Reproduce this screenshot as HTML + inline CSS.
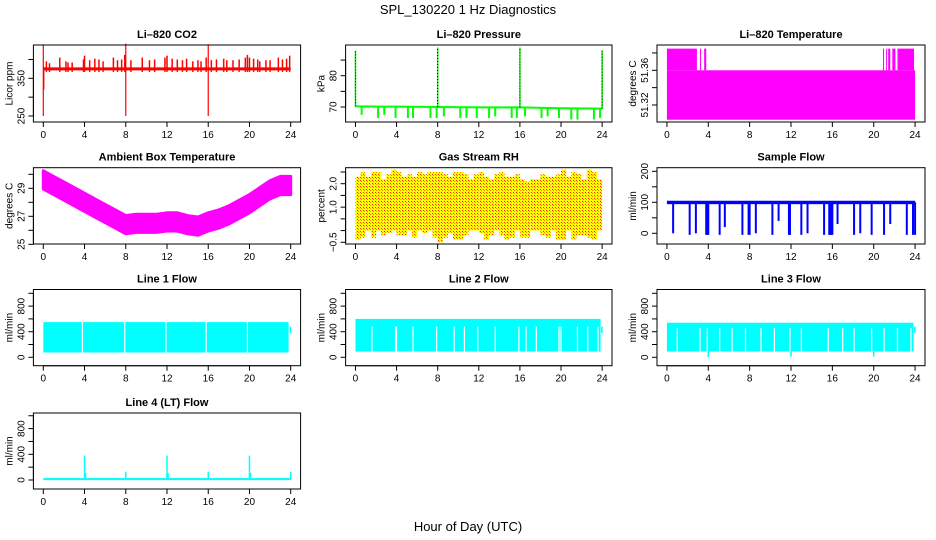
<!DOCTYPE html>
<html><head><meta charset="utf-8"><style>
html,body{margin:0;padding:0;background:#fff;}
svg{display:block;font-family:"Liberation Sans",Arial,sans-serif;}
</style></head><body>
<svg id="chart" width="936" height="540" viewBox="0 0 936 540">
<defs>
<pattern id="rhpat" width="3" height="3" patternUnits="userSpaceOnUse"><rect width="3" height="3" fill="#ffff00"/><rect width="1" height="1" fill="#ff2000"/><rect x="1" y="1" width="1" height="1" fill="#ff8000"/></pattern>
</defs>
<text x="468" y="14" text-anchor="middle" font-size="13">SPL_130220  1 Hz Diagnostics</text>
<text x="468" y="531" text-anchor="middle" font-size="13">Hour of Day (UTC)</text>
</svg>
<script>
// ---- data ----
const xTicks = [0,4,8,12,16,20,24];
// CO2
const co2Base = 375;
const co2SpikeHours = [0.3,0.6,1.6,2.2,2.4,2.8,3.9,4.0,4.5,5.0,5.4,5.8,6.8,7.2,7.6,7.9,8.5,9.6,10.3,10.8,11.8,12.0,12.5,13.0,13.5,13.9,14.5,15.0,15.3,15.8,16.3,16.8,17.5,17.8,18.4,19.0,19.6,19.8,20.0,20.4,20.8,21.0,21.6,22.0,22.8,23.2,23.6,23.9];
const co2SpikeHi = [395,390,405,395,392,392,400,410,398,402,400,395,405,398,400,412,398,405,398,400,405,410,402,400,398,402,395,398,395,405,398,400,402,398,398,400,405,412,405,402,400,395,398,398,405,400,402,410];
const co2BigHours = [0,0.05,8,16];
const co2BigHi = [440,380,442,440];
const co2BigLo = [250,320,250,250];
// Pressure
const presBaseHours = [0,4,8,12,16,20,24];
const presBaseVals = [70.2,70.1,70.0,69.9,69.9,69.6,69.5];
const presDipHours = [0.6,2.2,2.8,3.9,5.1,5.6,7.3,7.9,8.6,10.2,10.8,11.8,13.0,13.6,15.2,15.7,16.5,18.1,18.7,19.8,21.0,21.6,23.2,23.8];
const presDipVals = [67.5,66.5,67.5,66.5,66.5,66.5,66.5,66.5,67,66.5,66.5,66.5,66.5,67,66.5,66.5,67,66.5,67,66.5,66,66,66,66.5];
const presSpikeHours = [0,8,16,24];
const presSpikeVals = [88,89,89,88];
// Li-820 temperature
const tempHighSpans = [[0,2.9],[3.2,3.3],[3.6,3.8],[20.9,21.0],[21.2,21.3],[21.4,21.6],[21.8,22.1],[22.3,23.9]];
const tempBase = 51.36, tempHigh = 51.385, tempLow = 51.303;
// Ambient box temperature (hourly centre)
const ambHours = [0,1,2,3,4,5,6,7,8,9,10,11,12,13,14,15,16,17,18,19,20,21,22,23,24];
const ambCenter = [29.6,29.2,28.8,28.4,28.0,27.6,27.2,26.8,26.4,26.5,26.5,26.5,26.6,26.6,26.4,26.3,26.6,26.8,27.1,27.5,27.9,28.4,28.9,29.2,29.2];
const ambHalf = 0.65;
// RH (half-hourly max/min)
const rhMax = [2.3,2.5,2.3,2.5,2.5,2.2,2.4,2.6,2.5,2.3,2.4,2.3,2.5,2.4,2.5,2.5,2.5,2.4,2.3,2.5,2.5,2.4,2.2,2.4,2.5,2.3,2.2,2.4,2.5,2.3,2.3,2.4,2.2,2.1,2.2,2.2,2.4,2.3,2.3,2.4,2.6,2.3,2.5,2.4,2.2,2.6,2.5,2.2];
const rhMin = [-0.4,-0.3,0.0,-0.3,0.0,-0.2,-0.1,0.0,-0.2,-0.2,0.0,-0.3,0.0,-0.1,0.0,-0.3,-0.5,-0.3,-0.1,-0.4,-0.4,-0.2,0.0,0.0,-0.1,-0.4,-0.2,0.0,-0.2,-0.4,-0.3,0.0,-0.3,-0.3,0.0,0.0,-0.2,-0.3,0.0,-0.4,-0.4,0.0,-0.4,-0.2,-0.2,-0.3,-0.4,0.0];
// Sample flow
const sfBase = 100;
const sfDipHours = [0.6,2.2,2.8,3.8,3.9,4.0,5.1,5.6,7.3,7.9,8.0,8.6,10.2,10.8,11.8,11.9,13.0,13.6,15.2,15.7,15.8,15.9,16.0,16.5,18.1,18.7,19.8,21.0,21.6,23.2,23.8,24.0];
const sfDipVals = [0,-5,0,-5,-5,-5,-5,20,-5,-5,-5,0,-5,40,-5,-5,-5,0,-5,-5,-5,-5,-5,30,-5,0,-5,-5,30,-5,-5,-5];
// Line flows
const l1Low = 75, l1High = 550;
const l1Gaps = [3.8,7.9,11.9,15.8,19.8,23.85];
const l2Low = 90, l2High = 600;
const l2Gaps = [1.6,3.9,4.0,5.6,7.9,9.6,10.6,11.9,13.6,15.9,16.6,17.6,19.8,20.0,21.6,22.6,23.6];
const l3Low = 90, l3High = 540;
const l3Gaps = [1.0,3.2,3.9,5.1,6.3,7.6,9.1,10.4,11.9,13.0,15.6,17.0,18.1,19.8,21.0,22.3,23.6];
const l3DipHours = [4.0,12.0,20.0];
const l3DipVals = [0,10,10];
const l4Base = 10;
const l4SpikeHours = [4,4.1,8,12,12.1,16,20,20.1,24];
const l4SpikeVals = [380,110,130,380,110,130,380,110,130];

// ---- layout ----
const svg = document.getElementById('chart');
const NS = 'http://www.w3.org/2000/svg';
const cols = [[33.4,300.6],[345.6,612],[657,925]];
const rows = [[45,122],[167.7,244],[289.5,365.7],[413,489]];
function mk(tag, attrs, parent){ const e=document.createElementNS(NS,tag); for(const k in attrs) e.setAttribute(k,attrs[k]); (parent||svg).appendChild(e); return e; }

function panel(ci, ri, name, title, ylab, yv0, yp0, yv1, yp1, ticks, labels, labelText){
  const [x0,x1]=cols[ci], [y0,y1]=rows[ri];
  const g = mk('g',{});
  
  
  const sx = h => x0 + (h+0.96)/25.92*(x1-x0);
  const sy = v => yp0 + (v-yv0)*(yp1-yp0)/(yv1-yv0);
  const plot = mk('g',{},g);
  
  
  const box = mk('rect',{x:x0,y:y0,width:x1-x0,height:y1-y0,fill:'none',stroke:'#000','stroke-width':1},g);
  
  
  const t = mk('text',{x:(x0+x1)/2,y:y0-7,'text-anchor':'middle','font-size':11,'font-weight':'bold'},g);
  t.textContent = title;
  
  
  const xa = mk('g',{},g);
  
  
  mk('line',{x1:sx(0),x2:sx(24),y1:y1,y2:y1,stroke:'#000'},xa);
  xTicks.forEach(h=>{
    mk('line',{x1:sx(h),x2:sx(h),y1:y1,y2:y1+5,stroke:'#000'},xa);
    const tl = mk('text',{x:sx(h),y:y1+16,'text-anchor':'middle','font-size':10},xa);
    tl.textContent = h;
    
    
  });
  const ya = mk('g',{},g);
  
  
  mk('line',{x1:x0,x2:x0,y1:sy(ticks[0]),y2:sy(ticks[ticks.length-1]),stroke:'#000'},ya);
  ticks.forEach(v=>{
    mk('line',{x1:x0-5,x2:x0,y1:sy(v),y2:sy(v),stroke:'#000'},ya);
  });
  labels.forEach((v,i)=>{
    const yy = sy(v);
    const tl = mk('text',{x:x0-9,y:yy,'text-anchor':'middle','font-size':10,transform:`rotate(-90 ${x0-9} ${yy})`},ya);
    tl.textContent = labelText ? labelText[i] : String(v);
    
    
  });
  const yl = mk('text',{x:x0-21,y:(y0+y1)/2,'text-anchor':'middle','font-size':10,transform:`rotate(-90 ${x0-21} ${(y0+y1)/2})`},g);
  yl.textContent = ylab;
  
  
  return {sx,sy,plot,y0,y1};
}
function vline(p, x, ya, yb, color, w, extra){
  return mk('line',Object.assign({x1:x,x2:x,y1:ya,y2:yb,stroke:color,'stroke-width':w||1},extra||{}),p);
}
function rect(p,xa,xb,ya,yb,fill){ return mk('rect',{x:Math.min(xa,xb),y:Math.min(ya,yb),width:Math.abs(xb-xa),height:Math.abs(yb-ya),fill:fill},p); }

// P1 CO2
{ const P = panel(0,0,'co2-panel','Li\u2013820 CO2','Licor ppm',250,116,350,78.3,[250,300,350,400],[250,350]);
  rect(P.plot,P.sx(0),P.sx(24),P.sy(co2Base+4),P.sy(co2Base-4),'#ff0000');
  co2SpikeHours.forEach((h,i)=>{ vline(P.plot,P.sx(h),P.sy(co2Base-8),P.sy(co2SpikeHi[i]),'#ff0000',1.5); });
  co2BigHours.forEach((h,i)=>{ vline(P.plot,P.sx(h),P.sy(co2BigLo[i]),P.sy(co2BigHi[i]),'#ff0000',1.2); });
}
// P2 Pressure
{ const P = panel(1,0,'pressure-panel','Li\u2013820 Pressure','kPa',70,107,80,75.7,[70,75,80,85],[70,80]);
  let d=''; presBaseHours.forEach((h,i)=>{ d+=(i?'L':'M')+P.sx(h)+','+P.sy(presBaseVals[i]); });
  mk('path',{d:d,fill:'none',stroke:'#00ff00','stroke-width':2},P.plot);
  const bv = h=>{ for(let i=1;i<presBaseHours.length;i++){ if(h<=presBaseHours[i]){const a=presBaseHours[i-1],b=presBaseHours[i];return presBaseVals[i-1]+(presBaseVals[i]-presBaseVals[i-1])*(h-a)/(b-a);} } return presBaseVals[presBaseVals.length-1]; };
  presDipHours.forEach((h,i)=>{ vline(P.plot,P.sx(h),P.sy(bv(h)),P.sy(presDipVals[i]),'#00ff00',2); });
  presSpikeHours.forEach((h,i)=>{ vline(P.plot,P.sx(h),P.sy(bv(h)),P.sy(presSpikeVals[i]),'#00ff00',1.5); vline(P.plot,P.sx(h),P.sy(bv(h)),P.sy(presSpikeVals[i]),'#000',1,{'stroke-dasharray':'1 2'}); });
}
// P3 Li-820 temp
{ const P = panel(2,0,'licor-temp-panel','Li\u2013820 Temperature','degrees C',51.32,105,51.36,70.3,[51.32,51.34,51.36,51.38],[51.32,51.36],['51.32','51.36']);
  rect(P.plot,P.sx(0),P.sx(24),P.sy(tempLow),P.sy(tempBase),'#ff00ff');
  tempHighSpans.forEach(s=>{ rect(P.plot,P.sx(s[0]),P.sx(s[1]),P.sy(tempBase),P.sy(tempHigh),'#ff00ff'); });
}
// P4 Ambient
{ const P = panel(0,1,'ambient-temp-panel','Ambient Box Temperature','degrees C',27,216.3,29,188.3,[25,26,27,28,29,30],[25,27,29]);
  let d='M'; ambHours.forEach((h,i)=>{ d+=(i?'L':'')+P.sx(h)+','+P.sy(ambCenter[i]+ambHalf); });
  for(let i=ambHours.length-1;i>=0;i--) d+='L'+P.sx(ambHours[i])+','+P.sy(ambCenter[i]-ambHalf);
  mk('path',{d:d+'Z',fill:'#ff00ff',stroke:'#ff00ff','stroke-width':3,'stroke-linejoin':'round'},P.plot);
}
// P5 RH
{ const P = panel(1,1,'rh-panel','Gas Stream RH','percent',-0.5,242.3,2.0,183.7,[-0.5,0,0.5,1,1.5,2,2.5],[-0.5,1.0,2.0],['\u22120.5','1.0','2.0']);
  rhMax.forEach((mx,i)=>{ const ha=i*0.5, hb=ha+0.5; rect(P.plot,P.sx(ha),P.sx(hb),P.sy(mx),P.sy(rhMin[i]),'url(#rhpat)'); });
}
// P6 Sample flow
{ const P = panel(2,1,'sample-flow-panel','Sample Flow','ml/min',0,233.3,100,202.3,[0,50,100,150,200],[0,100,200]);
  rect(P.plot,P.sx(0),P.sx(24),P.sy(sfBase-6),P.sy(sfBase+5),'#0000ff');
  sfDipHours.forEach((h,i)=>{ vline(P.plot,P.sx(h),P.sy(sfBase),P.sy(sfDipVals[i]),'#0000ff',2); });
}
function flowPanel(ci,ri,name,title,lo,hi,gaps,gapTop){
  const P = panel(ci,ri,name,title,'ml/min',0,357.3,400,331.7,[0,200,400,600,800,1000],[0,400,800]);
  rect(P.plot,P.sx(0),P.sx(23.85),P.sy(lo),P.sy(hi),'#00ffff');
  rect(P.plot,P.sx(23.9),P.sx(24.05),P.sy(380),P.sy(480),'#00ffff');
  gaps.forEach(h=>{ vline(P.plot,P.sx(h),P.sy(lo-5),P.sy(gapTop),'#ffffff',1.2); });
  return P;
}
flowPanel(0,2,'line1-flow-panel','Line 1 Flow',l1Low,l1High,l1Gaps,l1High+5);
flowPanel(1,2,'line2-flow-panel','Line 2 Flow',l2Low,l2High,l2Gaps,480);
{ const P = flowPanel(2,2,'line3-flow-panel','Line 3 Flow',l3Low,l3High,l3Gaps,460);
  l3DipHours.forEach((h,i)=>{ vline(P.plot,P.sx(h),P.sy(l3Low),P.sy(l3DipVals[i]),'#00ffff',1.5); });
}
// Line 4
{ const P = panel(0,3,'line4-flow-panel','Line 4 (LT) Flow','ml/min',0,480,400,454.3,[0,200,400,600,800,1000],[0,400,800]);
  rect(P.plot,P.sx(0),P.sx(24),P.sy(l4Base-12),P.sy(l4Base+20),'#00ffff');
  l4SpikeHours.forEach((h,i)=>{ vline(P.plot,P.sx(h),P.sy(l4Base),P.sy(l4SpikeVals[i]),'#00ffff',1.5); });
}
</script>
</body></html>
